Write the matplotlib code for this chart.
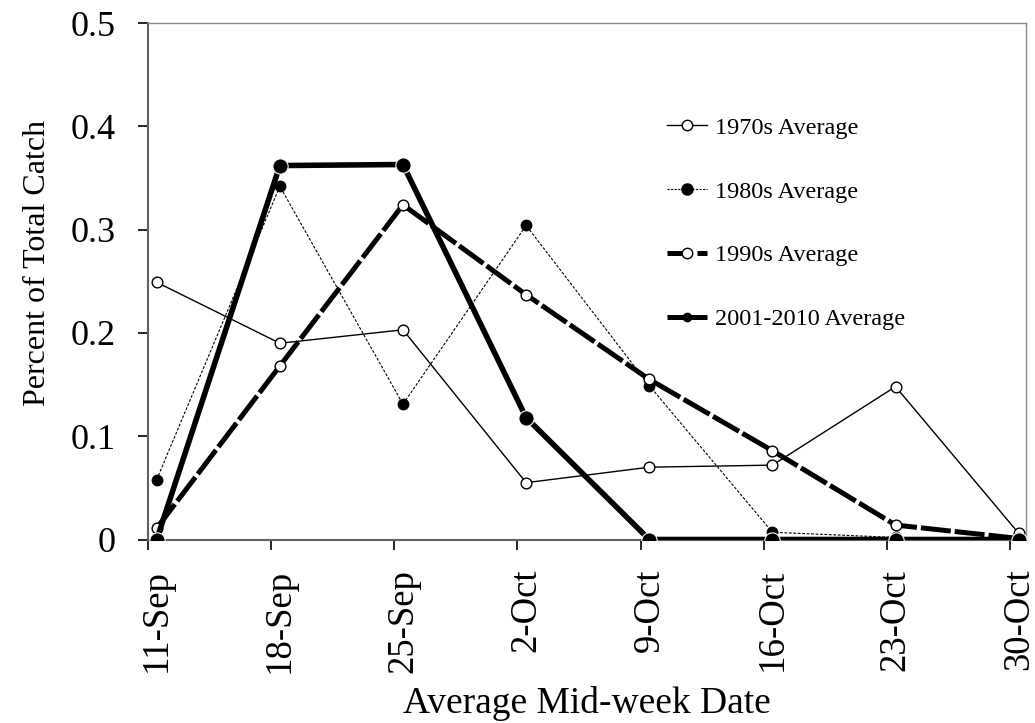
import matplotlib
matplotlib.use("Agg")
import matplotlib.pyplot as plt
from matplotlib.lines import Line2D
import numpy as np

dates = ["11-Sep", "18-Sep", "25-Sep", "2-Oct", "9-Oct", "16-Oct", "23-Oct", "30-Oct"]
avg_1970s = [0.249, 0.190, 0.203, 0.055, 0.070, 0.072, 0.148, 0.006]
avg_1980s = [0.058, 0.342, 0.131, 0.304, 0.149, 0.007, 0.002, 0.000]
avg_1990s = [0.011, 0.168, 0.324, 0.237, 0.155, 0.086, 0.014, 0.001]
avg_2001_2010 = [0.000, 0.362, 0.363, 0.118, 0.000, 0.000, 0.000, 0.000]
labels = ["1970s Average", "1980s Average", "1990s Average", "2001-2010 Average"]
yticks = [0, 0.1, 0.2, 0.3, 0.4, 0.5]
ytick_labels = ["0", "0.1", "0.2", "0.3", "0.4", "0.5"]

plt.rcParams['font.family'] = ['Liberation Serif', 'DejaVu Serif']

W, H = 1035, 723
fig = plt.figure(figsize=(W/100, H/100), dpi=100)
L, R, T, B = 148, 1026, 23, 539.5
ax = fig.add_axes([L/W, 1 - B/H, (R-L)/W, (B-T)/H])

x = np.arange(len(dates))

ax.plot(x, avg_1970s, color='black', lw=1.0, marker='o', ms=7.7,
        mfc='white', mec='black', mew=1.0, zorder=3)
ax.plot(x, avg_1980s, color='black', lw=0.8, ls=(0, (2.5, 1.5)), marker='o', ms=7.5,
        mfc='black', mec='black', zorder=3)
ax.plot(x, avg_1990s, color='black', lw=3.6, ls=(0, (6, 0.8)), marker='o', ms=7.7,
        mfc='white', mec='black', mew=1.0, zorder=4)
ax.plot(x, avg_2001_2010, color='black', lw=4.0, marker='o', ms=11,
        mfc='black', mec='white', mew=0.8, zorder=5)

ax.set_ylim(0, 0.5)
off = 8.7 / 123.15
ax.set_xlim(-off, 7 + 7.3/123.15)

ax.set_yticks(yticks)
ax.set_yticklabels(ytick_labels, fontsize=26)
ax.tick_params(axis='y', direction='out', length=7.5, width=1.2, pad=16)

ax.set_xticks(x - off)
ax.set_xticklabels([""] * len(dates))
ax.set_xticks(x, minor=True)
ax.set_xticklabels(dates, minor=True, rotation=90, fontsize=26.5)
ax.tick_params(axis='x', which='major', direction='out', length=7.5, width=1.2)
ax.tick_params(axis='x', which='minor', length=0, pad=21)

ax.set_ylabel("Percent of Total Catch", fontsize=23)
ax.yaxis.set_label_coords((52 - L)/(R - L), (B - 263)/(B - T))
ax.set_xlabel("Average Mid-week Date", fontsize=27)
ax.xaxis.set_label_coords(0.5, (B - 686)/(B - T))

ax.spines['left'].set_color('#606060')
ax.spines['left'].set_linewidth(1.5)
ax.spines['bottom'].set_color('#606060')
ax.spines['bottom'].set_linewidth(1.5)
for s in ['top', 'right']:
    ax.spines[s].set_color('#8a8a8a')
    ax.spines[s].set_linewidth(1.0)

handles = [
    Line2D([], [], color='black', lw=1.0, marker='o', ms=7.5, mfc='white', mec='black'),
    Line2D([], [], color='black', lw=0.8, ls=(0, (2, 1.2)), marker='o', ms=8, mfc='black', mec='black'),
    Line2D([], [], color='black', lw=3.6, ls=(0, (5, 1.0)), marker='o', ms=7.5, mfc='white', mec='black'),
    Line2D([], [], color='black', lw=3.6, ls=(0, (4, 0.6)), marker='o', ms=6, mfc='black', mec='black'),
]
leg = ax.legend(handles, labels, loc='upper left',
                bbox_to_anchor=((657 - L)/(R - L), (B - 107)/(B - T)),
                frameon=False, fontsize=17.5, handlelength=1.65, handletextpad=0.33,
                labelspacing=1.72, borderaxespad=0)

fig.savefig("out.png", dpi=100)
